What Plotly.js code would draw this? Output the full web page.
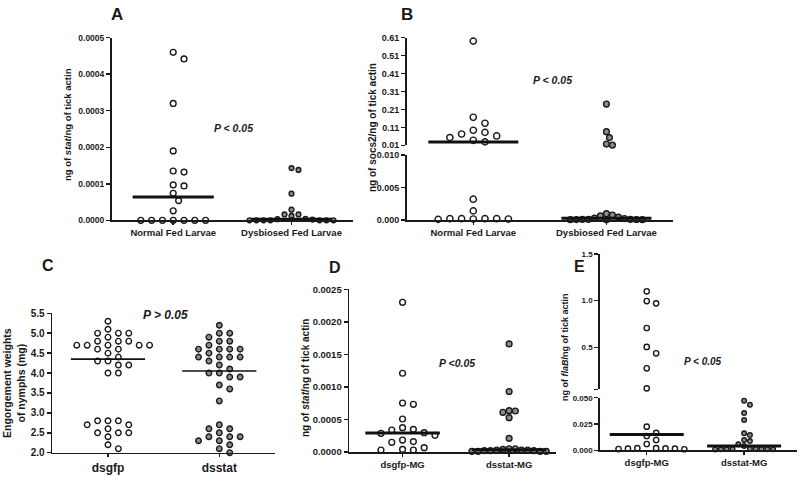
<!DOCTYPE html>
<html><head><meta charset="utf-8">
<script src="https://cdn.plot.ly/plotly-3.0.1.min.js"></script>
<style>html,body{margin:0;padding:0;background:#fff;}#chart{width:800px;height:477px;}</style>
</head><body><div id="chart"></div>
<script>
// ---------- DATA ----------
const catsAB = ["Normal Fed Larvae", "Dysbiosed Fed Larvae"];
const catsC = ["dsgfp", "dsstat"];
const catsDE = ["dsgfp-MG", "dsstat-MG"];

const aNormal = [0.00046, 0.000442, 0.00032, 0.00019, 0.000135, 0.000132, 0.000097, 0.000094, 0.000074, 0.000054, 0.000026, 0, 0, 0, 0, 0, 0, 0];
const aDysb = [0.000143, 0.000138, 0.000073, 0.000029, 0.000016, 0.000016, 0.000012, 0.000004, 0.000003, 0.000002, 0, 0, 0, 0, 0, 0, 0];

const bNormal = [0.591, 0.166, 0.133, 0.094, 0.082, 0.073, 0.062, 0.053, 0.038, 0.029, 0.0032, 0.0014, 0.0002, 0.00015, 0.0002, 0.0001, 0.00015, 0.0002, 0.0002];
const bDysb = [0.24, 0.086, 0.053, 0.017, 0.011, 0.00097, 0.00077, 0.00062, 0.00045, 0.00028, 0.00022, 0.0001, 0.00005, 0.0001, 0.00008, 0.00005, 0.0001, 0.00003, 0.00006];

const cGfp = [5.3, 5.1, 5.0, 5.0, 5.0, 4.9, 4.8, 4.8, 4.8, 4.7, 4.7, 4.7, 4.7, 4.7, 4.6, 4.6, 4.5, 4.4, 4.3, 4.3, 4.2, 4.2, 4.0, 4.0,
              2.8, 2.8, 2.8, 2.7, 2.7, 2.6, 2.5, 2.5, 2.5, 2.4, 2.2, 2.1];
const cStat = [5.2, 5.0, 5.0, 4.9, 4.8, 4.8, 4.7, 4.6, 4.6, 4.6, 4.6, 4.5, 4.4, 4.4, 4.4, 4.4, 4.3, 4.2, 4.1, 4.0, 4.0, 3.9, 3.9, 3.7, 3.6, 3.3,
               2.7, 2.6, 2.6, 2.5, 2.4, 2.4, 2.4, 2.3, 2.3, 2.2, 2.1, 2.0];

const dGfp = [0.0023, 0.00121, 0.000753, 0.000733, 0.000507, 0.000374, 0.000348, 0.000338, 0.000297, 0.000287, 0.000256, 0.000184, 0.00016, 0.000149, 0.000067, 0.00004, 0.00003, 0.00003];
const dStat = [0.00166, 0.00093, 0.000635, 0.00063, 0.00061, 0.000528, 0.00021,
               0.00001, 0.00002, 0.00005, 0.00003, 0.00002, 0.00005, 0.00003, 0.00002, 0.00004, 0.00001, 0.00003, 0.00001, 0.00001];

const eGfp = [1.1, 0.996, 0.971, 0.707, 0.504, 0.436, 0.275, 0.06, 0.0225, 0.0165, 0.0136, 0.0098, 0.006, 0.002, 0.0015, 0.0012, 0.001, 0.0015, 0.002, 0.0018];
const eStat = [0.0472, 0.0434, 0.0354, 0.0288, 0.0162, 0.0145, 0.0098, 0.0088, 0.0057, 0.0042, 0.0015, 0.0012, 0.001, 0.0014, 0.0008, 0.0011, 0.0013, 0.0009, 0.0012];

// tick labels
const aTickVals = [0, 0.0001, 0.0002, 0.0003, 0.0004, 0.0005];
const aTickText = ["0.0000", "0.0001", "0.0002", "0.0003", "0.0004", "0.0005"];
const bLowVals = [0, 0.005, 0.010];
const bLowText = ["0.000", "0.005", "0.010"];
const bUpVals = [0.01, 0.11, 0.21, 0.31, 0.41, 0.51, 0.61];
const bUpText = ["0.01", "0.11", "0.21", "0.31", "0.41", "0.51", "0.61"];
const cTickVals = [2.0, 2.5, 3.0, 3.5, 4.0, 4.5, 5.0, 5.5];
const cTickText = ["2.0", "2.5", "3.0", "3.5", "4.0", "4.5", "5.0", "5.5"];
const dTickVals = [0, 0.0005, 0.0010, 0.0015, 0.0020, 0.0025];
const dTickText = ["0.0000", "0.0005", "0.0010", "0.0015", "0.0020", "0.0025"];
const eLowVals = [0, 0.025, 0.05];
const eLowText = ["0.000", "0.025", "0.050"];
const eUpVals = [0.05, 0.5, 1.0, 1.5];
const eUpText = ["", "0.5", "1.0", "1.5"];

// ---------- LAYOUT CONFIG ----------
const W = 800, H = 477;
const FONT = "Liberation Sans, Arial, sans-serif";
const INK = "#1a1a1a";
const WHITE = "#ffffff", GREY = "#8c8c8c";

// swarm spacing: dx = horizontal min distance, dy = vertical min distance, step = candidate step (px)
const panels = [
  { xid: "x", cats: catsAB, xpx: [111.7, 353], xr: [-0.52, 1.52], tick: 8.5, xfont: 9.5, mw: 3, hw: 0.343,
    segs: [{ yid: "y", py: [220.3, 37.7], r: [0, 0.0005], tv: aTickVals, tt: aTickText }],
    series: [{ v: aNormal, fill: WHITE, size: 5.8, dx: 10.8, dy: 8, step: 5.4 },
             { v: aDysb, fill: GREY, size: 4.8, dx: 7, dy: 6, step: 3.5 }] },
  { xid: "x2", cats: catsAB, xpx: [406.7, 673], xr: [-0.5, 1.5], tick: 9, xfont: 9.5, mw: 3, hw: 0.338,
    segs: [{ yid: "y2", py: [220, 155], r: [0, 0.010], tv: bLowVals, tt: bLowText },
           { yid: "y3", py: [145.3, 37.7], r: [0.01, 0.61], tv: bUpVals, tt: bUpText }],
    series: [{ v: bNormal, fill: WHITE, size: 6.3, dx: 11.7, dy: 8, step: 11.7 },
             { v: bDysb, fill: GREY, size: 5.8, dx: 6, dy: 6, step: 3 }] },
  { xid: "x3", cats: catsC, xpx: [52.3, 275], xr: [-0.5, 1.5], tick: 10, xfont: 12, mw: 1.6, hw: 0.333,
    segs: [{ yid: "y4", py: [452.7, 313.3], r: [2.0, 5.5], tv: cTickVals, tt: cTickText }],
    series: [{ v: cGfp, fill: WHITE, size: 5.6, dx: 10.4, dy: 7, step: 10.4 },
             { v: cStat, fill: GREY, size: 5.6, dx: 10.4, dy: 7, step: 10.4 }] },
  { xid: "x4", cats: catsDE, xpx: [349.3, 556], xr: [-0.5, 1.44], tick: 9.5, xfont: 9.5, mw: 3, hw: 0.35,
    segs: [{ yid: "y5", py: [452, 289.3], r: [0, 0.0025], tv: dTickVals, tt: dTickText }],
    series: [{ v: dGfp, fill: WHITE, size: 5.8, dx: 10.8, dy: 8, step: 10.8 },
             { v: dStat, fill: GREY, size: 5.8, dx: 6.2, dy: 6.2, step: 3.1 }] },
  { xid: "x5", cats: catsDE, xpx: [600, 796.7], xr: [-0.48, 1.54], tick: 8, xfont: 9.5, mw: 3, hw: 0.38,
    segs: [{ yid: "y6", py: [450.3, 397.7], r: [0, 0.05], tv: eLowVals, tt: eLowText },
           { yid: "y7", py: [389.3, 254], r: [0.05, 1.5], tv: eUpVals, tt: eUpText }],
    series: [{ v: eGfp, fill: WHITE, size: 5.3, dx: 9.4, dy: 7, step: 9.4 },
             { v: eStat, fill: GREY, size: 4.6, dx: 5.8, dy: 5.8, step: 2.9 }] }
];

function axKey(id) { return id[0] + "axis" + id.slice(1); }
function median(a) {
  const s = a.slice().sort((p, q) => p - q), n = s.length;
  return n % 2 ? s[(n - 1) / 2] : (s[n / 2 - 1] + s[n / 2]) / 2;
}
function swarm(vals, yPx, ser) {
  const order = vals.map((v, i) => i).sort((a, b) => vals[b] - vals[a]);
  const placed = [], off = new Array(vals.length);
  for (const i of order) {
    const y = yPx(vals[i]);
    for (let k = 0; k < 400; k++) {
      const m = Math.ceil(k / 2) * (k % 2 === 1 ? 1 : -1);
      const x = m * ser.step;
      if (placed.every(p => ((p.x - x) / ser.dx) ** 2 + ((p.y - y) / ser.dy) ** 2 >= 1 - 1e-6)) {
        placed.push({ x, y }); off[i] = x; break;
      }
    }
  }
  return off;
}

const layout = {
  width: W, height: H, margin: { l: 0, r: 0, t: 0, b: 0 },
  paper_bgcolor: "#fff", plot_bgcolor: "rgba(0,0,0,0)", showlegend: false,
  font: { family: FONT, color: INK }, annotations: []
};
const traces = [];

const common = {
  showline: true, linecolor: INK, linewidth: 1.7, ticks: "outside", ticklen: 4, tickwidth: 1.5,
  tickcolor: INK, showgrid: false, zeroline: false, fixedrange: true, tickmode: "array"
};

panels.forEach(p => {
  layout[axKey(p.xid)] = Object.assign({}, common, {
    domain: [p.xpx[0] / W, p.xpx[1] / W], range: p.xr, anchor: p.segs[0].yid,
    tickvals: [0, 1], ticktext: p.cats, ticklen: 3,
    tickfont: { family: FONT, size: p.xfont, color: INK, weight: "bold" }
  });
  p.segs.forEach(s => {
    layout[axKey(s.yid)] = Object.assign({}, common, {
      domain: [1 - s.py[0] / H, 1 - s.py[1] / H], range: s.r, anchor: p.xid,
      tickvals: s.tv, ticktext: s.tt,
      tickfont: { family: FONT, size: p.tick, color: INK, weight: "bold" }
    });
  });
  const segFor = v => (p.segs.length > 1 && v >= p.segs[1].r[0]) ? p.segs[1] : p.segs[0];
  const yPx = v => { const s = segFor(v); return s.py[0] - (v - s.r[0]) / (s.r[1] - s.r[0]) * (s.py[0] - s.py[1]); };
  const pxPerX = (p.xpx[1] - p.xpx[0]) / (p.xr[1] - p.xr[0]);
  const lines = [];
  p.series.forEach((ser, ci) => {
    const off = swarm(ser.v, yPx, ser);
    p.segs.forEach(s => {
      const xs = [], ys = [];
      ser.v.forEach((v, i) => { if (segFor(v) === s) { xs.push(ci + off[i] / pxPerX); ys.push(v); } });
      if (xs.length) traces.push({
        type: "scatter", mode: "markers", x: xs, y: ys, xaxis: p.xid, yaxis: s.yid,
        cliponaxis: false, hoverinfo: "skip",
        marker: { size: ser.size, color: ser.fill, line: { color: INK, width: 1.4 } }
      });
    });
    const m = median(ser.v), ms = segFor(m);
    lines.push({
      type: "scatter", mode: "lines", x: [ci - p.hw, ci + p.hw], y: [m, m], xaxis: p.xid, yaxis: ms.yid,
      cliponaxis: false, hoverinfo: "skip", line: { color: "#111", width: p.mw }
    });
  });
  lines.forEach(l => traces.push(l));
});

function ann(text, x, y, size, extra) {
  layout.annotations.push(Object.assign({
    text, x: x / W, y: 1 - y / H, xref: "paper", yref: "paper", showarrow: false,
    xanchor: "center", yanchor: "middle", font: { family: FONT, size, color: INK }
  }, extra || {}));
}
// panel letters
ann("<b>A</b>", 117, 15, 17);
ann("<b>B</b>", 407, 15, 17);
ann("<b>C</b>", 48, 265, 16);
ann("<b>D</b>", 335, 267, 16);
ann("<b>E</b>", 579, 266, 16);
// p-values
ann("<b><i>P &lt; 0.05</i></b>", 233, 128, 10.5);
ann("<b><i>P &lt; 0.05</i></b>", 552, 80, 10.5);
ann("<b><i>P &gt; 0.05</i></b>", 165, 315, 12);
ann("<b><i>P &lt;0.05</i></b>", 457, 363, 10.5);
ann("<b><i>P &lt; 0.05</i></b>", 703, 361, 10);
// y-axis titles
ann("<b>ng of <i>stat</i>/ng of tick actin</b>", 67, 125, 9.5, { textangle: -90 });
ann("<b>ng of socs2/ng of tick actin</b>", 372, 128, 10, { textangle: -90 });
ann("<b>Engorgement weights<br>of nymphs (mg)</b>", 14, 383, 10.5, { textangle: -90 });
ann("<b>ng of <i>stat</i>/ng of tick actin</b>", 305, 378, 10, { textangle: -90 });
ann("<b>ng of <i>flaB</i>/ng of tick actin</b>", 565, 347, 9, { textangle: -90 });

Plotly.newPlot("chart", traces, layout, { staticPlot: true, displayModeBar: false });
</script>
</body></html>
